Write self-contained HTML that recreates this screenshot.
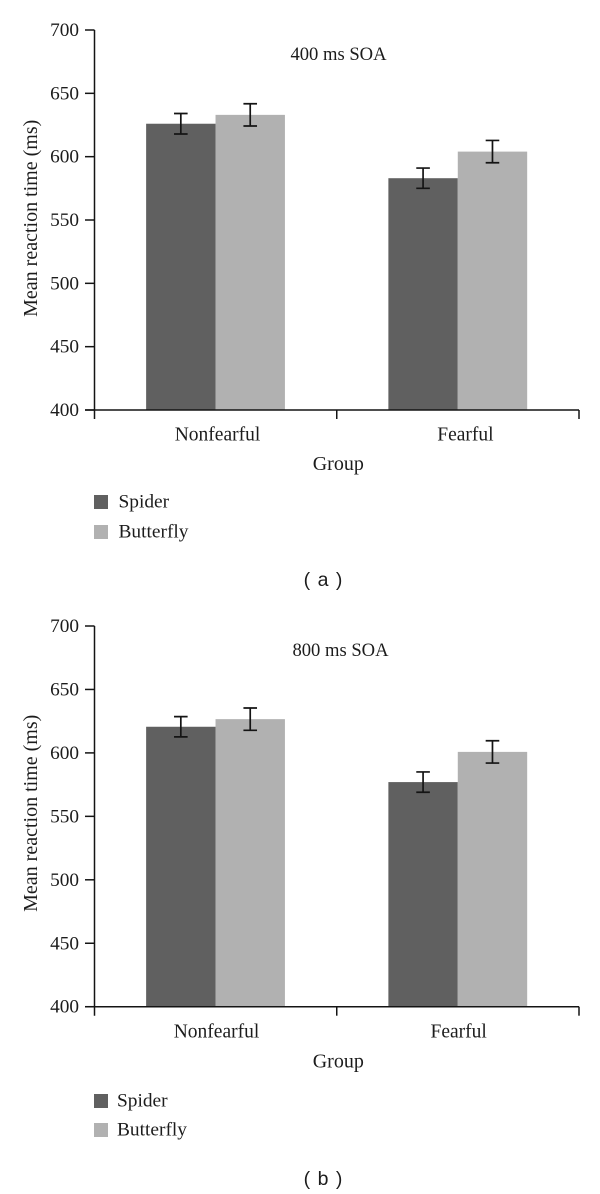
<!DOCTYPE html>
<html lang="en">
<head>
<meta charset="utf-8">
<title>Mean reaction time by group and SOA</title>
<style>
html,body{margin:0;padding:0;background:#fff;}
svg{display:block;}
text{font-family:"Liberation Serif",serif;fill:#1c1c1c;font-size:19.4px;}
.tick{font-size:19.3px;}
.cat{font-size:19.5px;}
.axt{font-size:20px;}
.ttl{font-size:18.6px;}
.cap{font-family:"Liberation Sans",sans-serif;font-size:19.5px;word-spacing:2px;}
</style>
</head>
<body>
<svg id="figure" width="600" height="1194" viewBox="0 0 600 1194" xmlns="http://www.w3.org/2000/svg"></svg>
<script>
const categories = ['Nonfearful', 'Fearful'];
const yTicks = [400, 450, 500, 550, 600, 650, 700];
const seriesNames = ['Spider', 'Butterfly'];
const seriesColors = ['#606060', '#b1b1b1'];

const spiderA = [626, 583];
const butterflyA = [633, 604];
const spiderErrA = [8.1, 8.0];
const butterflyErrA = [8.8, 8.8];

const spiderB = [620.6, 577];
const butterflyB = [626.6, 600.8];
const spiderErrB = [8.0, 8.0];
const butterflyErrB = [8.8, 8.8];

const svg = document.getElementById('figure');
const NS = 'http://www.w3.org/2000/svg';

function make(parent, tag, attrs, content) {
  const el = document.createElementNS(NS, tag);
  for (const k in attrs) el.setAttribute(k, attrs[k]);
  if (content !== undefined) el.textContent = content;
  parent.appendChild(el);
  return el;
}

function drawPanel(cfg) {
  const g = make(svg, 'g', {});
  
  

  const plotLeft = 94.5, plotRight = 579, top = cfg.top, bottom = cfg.bottom;
  const yMin = yTicks[0], yMax = yTicks[yTicks.length - 1];
  const yScale = v => bottom - (v - yMin) / (yMax - yMin) * (bottom - top);
  const bandW = (plotRight - plotLeft) / categories.length;
  const bandX = i => plotLeft + bandW * i;
  const barW = 69.4;
  const barCenter = bandW / 2 - 0.1;
  const series = [
    { name: seriesNames[0], color: seriesColors[0], vals: cfg.spider, errs: cfg.spiderErr, off: -barW },
    { name: seriesNames[1], color: seriesColors[1], vals: cfg.butterfly, errs: cfg.butterflyErr, off: 0 }
  ];

  // bars
  series.forEach(s => {
    s.vals.forEach((v, i) => {
      const x = bandX(i) + barCenter + s.off;
      const bar = make(g, 'rect', { x: x, y: yScale(v), width: barW, height: bottom - yScale(v), fill: s.color });
      
      
    });
  });

  // error bars
  series.forEach(s => {
    s.vals.forEach((v, i) => {
      const cx = bandX(i) + barCenter + s.off + barW / 2;
      const hi = yScale(v + s.errs[i]);
      const lo = yScale(v - s.errs[i]);
      const err = make(g, 'path', {
        d: 'M' + (cx - 6.8) + ' ' + hi + 'H' + (cx + 6.8) + 'M' + cx + ' ' + hi + 'V' + lo + 'M' + (cx - 6.8) + ' ' + lo + 'H' + (cx + 6.8),
        fill: 'none', stroke: '#141414', 'stroke-width': 1.7
      });
      
      
    });
  });

  // y axis
  const yAxis = make(g, 'line', { x1: plotLeft, x2: plotLeft, y1: top, y2: bottom + 9, stroke: '#141414', 'stroke-width': 1.5 });
  
  

  yTicks.forEach(t => {
    const y = yScale(t);
    const tick = make(g, 'line', { x1: 85, x2: plotLeft, y1: y, y2: y, stroke: '#141414', 'stroke-width': 1.5 });
    
    
    const label = make(g, 'text', { x: 79, y: y + 6, 'text-anchor': 'end', class: 'tick' }, String(t));
    
    
  });

  // x axis
  const xAxis = make(g, 'line', { x1: 85, x2: plotRight, y1: bottom, y2: bottom, stroke: '#141414', 'stroke-width': 1.5 });
  
  

  for (let i = 1; i <= categories.length; i++) {
    const tx = bandX(i);
    const tick = make(g, 'line', { x1: tx, x2: tx, y1: bottom, y2: bottom + 9, stroke: '#141414', 'stroke-width': 1.5 });
    
    
  }

  categories.forEach((c, i) => {
    const label = make(g, 'text', { x: cfg.catX[i], y: bottom + 30.7, 'text-anchor': 'middle', class: 'cat' }, c);
    
    
  });

  const xTitle = make(g, 'text', { x: 338.3, y: cfg.groupY, 'text-anchor': 'middle', class: 'axt' }, 'Group');
  
  

  const cy = cfg.yTitleY;
  const yTitle = make(g, 'text', { x: 37, y: cy, 'text-anchor': 'middle', class: 'axt', transform: 'rotate(-90 37 ' + cy + ')' }, 'Mean reaction time (ms)');
  
  

  const title = make(g, 'text', { x: cfg.titleX, y: top + 30, 'text-anchor': 'middle', class: 'ttl' }, cfg.title);
  
  

  // legend
  series.forEach((s, i) => {
    const ly = cfg.legendY[i];
    const swatch = make(g, 'rect', { x: 94, y: ly, width: 14, height: 14, fill: s.color });
    
    
    const text = make(g, 'text', { x: cfg.legendTextX, y: ly + 12.5 }, s.name);
    
    
  });

  const caption = make(g, 'text', { x: 323, y: cfg.captionY, 'text-anchor': 'middle', class: 'cap', 'xml:space': 'preserve' }, cfg.caption);
  
  
}

drawPanel({
  id: 'a', top: 30, bottom: 410, title: '400 ms SOA', titleX: 338.5,
  spider: spiderA, butterfly: butterflyA, spiderErr: spiderErrA, butterflyErr: butterflyErrA,
  catX: [217.5, 465.4], groupY: 470, yTitleY: 218.3,
  legendY: [495, 525], legendTextX: 118.5, captionY: 586, caption: '( a )'
});
drawPanel({
  id: 'b', top: 626, bottom: 1006.7, title: '800 ms SOA', titleX: 340.5,
  spider: spiderB, butterfly: butterflyB, spiderErr: spiderErrB, butterflyErr: butterflyErrB,
  catX: [216.5, 458.7], groupY: 1067.5, yTitleY: 813.3,
  legendY: [1094, 1123], legendTextX: 117, captionY: 1185, caption: '( b )'
});
</script>
</body>
</html>
